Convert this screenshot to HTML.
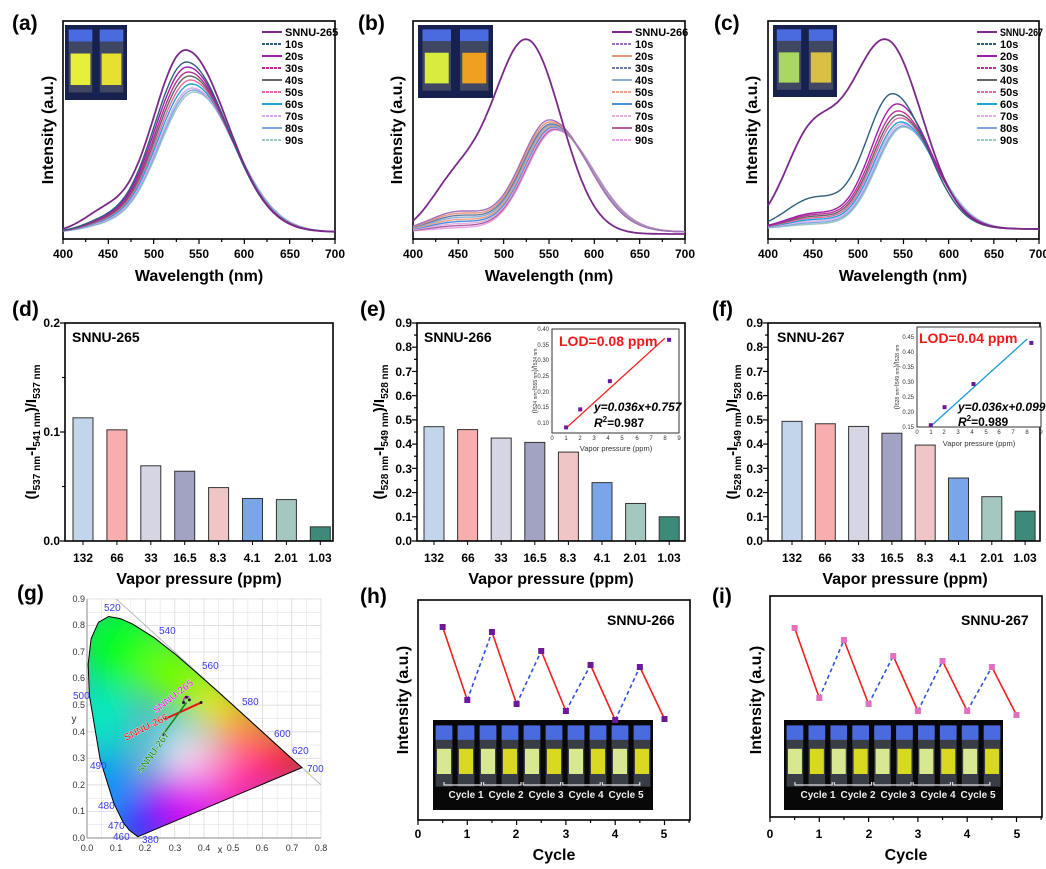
<!DOCTYPE html>
<html><head><meta charset="utf-8"><style>
html,body{margin:0;padding:0;background:#fff}
svg{display:block}
text{font-family:"Liberation Sans",sans-serif}
.pl{font-size:21px;font-weight:bold}
.tk{font-size:12px;font-weight:bold}
.ax{font-size:16px;font-weight:bold}
.lg{font-size:11px;font-weight:bold}
.cie{font-family:"Liberation Serif",serif;font-size:9px;fill:#333}
.wl{font-family:"Liberation Serif",serif;font-size:10px;fill:#3a3aee}
.in{font-size:6px;fill:#333}
.cy{font-size:10px;font-weight:bold;fill:#eee}
</style></head><body>
<svg id="s" width="1046" height="869" viewBox="0 0 1046 869" xmlns="http://www.w3.org/2000/svg">
<defs>
<clipPath id="cieclip"><polygon id="locus" points=""/></clipPath>
<filter id="bl" x="-50%" y="-50%" width="200%" height="200%"><feGaussianBlur stdDeviation="18"/></filter>
</defs>

<text class="pl" x="12" y="30">(a)</text>
<text class="pl" x="358" y="30">(b)</text>
<text class="pl" x="714" y="30">(c)</text>
<text class="pl" x="12" y="316">(d)</text>
<text class="pl" x="360" y="316">(e)</text>
<text class="pl" x="712" y="316">(f)</text>
<text class="pl" x="17" y="600">(g)</text>
<text class="pl" x="360" y="603">(h)</text>
<text class="pl" x="712" y="603">(i)</text>

<g id="dyn"></g>

<g class="tk" text-anchor="middle">
<text x="63" y="258">400</text><text x="108" y="258">450</text><text x="154" y="258">500</text><text x="199" y="258">550</text><text x="244" y="258">600</text><text x="290" y="258">650</text><text x="335" y="258">700</text>
<text x="413" y="258">400</text><text x="458" y="258">450</text><text x="504" y="258">500</text><text x="549" y="258">550</text><text x="594" y="258">600</text><text x="640" y="258">650</text><text x="685" y="258">700</text>
<text x="768" y="258">400</text><text x="813" y="258">450</text><text x="858" y="258">500</text><text x="903" y="258">550</text><text x="949" y="258">600</text><text x="994" y="258">650</text><text x="1039" y="258">700</text>
</g>
<g class="ax" text-anchor="middle">
<text x="199" y="281">Wavelength (nm)</text>
<text x="549" y="281">Wavelength (nm)</text>
<text x="903" y="281">Wavelength (nm)</text>
<text transform="translate(53,130) rotate(-90)">Intensity (a.u.)</text>
<text transform="translate(402,130) rotate(-90)">Intensity (a.u.)</text>
<text transform="translate(757,130) rotate(-90)">Intensity (a.u.)</text>
</g>
<g class="lg">
<text x="285" y="36">SNNU-265</text><text x="285" y="48">10s</text><text x="285" y="60">20s</text><text x="285" y="72">30s</text><text x="285" y="84">40s</text><text x="285" y="96">50s</text><text x="285" y="108">60s</text><text x="285" y="120">70s</text><text x="285" y="132">80s</text><text x="285" y="144">90s</text>
<text x="635" y="36">SNNU-266</text><text x="635" y="48">10s</text><text x="635" y="60">20s</text><text x="635" y="72">30s</text><text x="635" y="84">40s</text><text x="635" y="96">50s</text><text x="635" y="108">60s</text><text x="635" y="120">70s</text><text x="635" y="132">80s</text><text x="635" y="144">90s</text>
<text x="1000" y="36" textLength="43" lengthAdjust="spacingAndGlyphs">SNNU-267</text><text x="1000" y="48">10s</text><text x="1000" y="60">20s</text><text x="1000" y="72">30s</text><text x="1000" y="84">40s</text><text x="1000" y="96">50s</text><text x="1000" y="108">60s</text><text x="1000" y="120">70s</text><text x="1000" y="132">80s</text><text x="1000" y="144">90s</text>
</g>

<g class="tk" text-anchor="end">
<text x="60" y="545">0.0</text><text x="60" y="436">0.1</text><text x="60" y="327">0.2</text>
<text x="412" y="545">0.0</text><text x="412" y="521">0.1</text><text x="412" y="497">0.2</text><text x="412" y="473">0.3</text><text x="412" y="448">0.4</text><text x="412" y="424">0.5</text><text x="412" y="400">0.6</text><text x="412" y="376">0.7</text><text x="412" y="351">0.8</text><text x="412" y="327">0.9</text>
<text x="763" y="545">0.0</text><text x="763" y="521">0.1</text><text x="763" y="497">0.2</text><text x="763" y="473">0.3</text><text x="763" y="448">0.4</text><text x="763" y="424">0.5</text><text x="763" y="400">0.6</text><text x="763" y="376">0.7</text><text x="763" y="351">0.8</text><text x="763" y="327">0.9</text>
</g>
<g class="tk" text-anchor="middle">
<text x="83" y="562">132</text><text x="117" y="562">66</text><text x="151" y="562">33</text><text x="185" y="562">16.5</text><text x="218" y="562">8.3</text><text x="252" y="562">4.1</text><text x="286" y="562">2.01</text><text x="320" y="562">1.03</text>
<text x="434" y="562">132</text><text x="468" y="562">66</text><text x="501" y="562">33</text><text x="535" y="562">16.5</text><text x="568" y="562">8.3</text><text x="602" y="562">4.1</text><text x="635" y="562">2.01</text><text x="669" y="562">1.03</text>
<text x="792" y="562">132</text><text x="825" y="562">66</text><text x="858" y="562">33</text><text x="892" y="562">16.5</text><text x="925" y="562">8.3</text><text x="958" y="562">4.1</text><text x="992" y="562">2.01</text><text x="1025" y="562">1.03</text>
</g>
<g class="ax" text-anchor="middle">
<text x="199" y="584">Vapor pressure (ppm)</text>
<text x="551" y="584">Vapor pressure (ppm)</text>
<text x="905" y="584">Vapor pressure (ppm)</text>
</g>
<g font-weight="bold" font-size="15" text-anchor="middle">
<text transform="translate(36,432) rotate(-90)">(I<tspan font-size="10" dy="4">537 nm</tspan><tspan dy="-4">-I</tspan><tspan font-size="10" dy="4">541 nm</tspan><tspan dy="-4">)/I</tspan><tspan font-size="10" dy="4">537 nm</tspan></text>
<text transform="translate(384,432) rotate(-90)">(I<tspan font-size="10" dy="4">528 nm</tspan><tspan dy="-4">-I</tspan><tspan font-size="10" dy="4">549 nm</tspan><tspan dy="-4">)/I</tspan><tspan font-size="10" dy="4">528 nm</tspan></text>
<text transform="translate(737,432) rotate(-90)">(I<tspan font-size="10" dy="4">528 nm</tspan><tspan dy="-4">-I</tspan><tspan font-size="10" dy="4">549 nm</tspan><tspan dy="-4">)/I</tspan><tspan font-size="10" dy="4">528 nm</tspan></text>
</g>
<g font-weight="bold" font-size="14">
<text x="72" y="342">SNNU-265</text>
<text x="424" y="342">SNNU-266</text>
<text x="777" y="342">SNNU-267</text>
</g>
<g class="in" text-anchor="end">
<text x="549" y="425">0.10</text><text x="549" y="409">0.15</text><text x="549" y="394">0.20</text><text x="549" y="378">0.25</text><text x="549" y="362">0.30</text><text x="549" y="347">0.35</text><text x="549" y="331">0.40</text>
<text x="914" y="429">0.15</text><text x="914" y="414">0.20</text><text x="914" y="399">0.25</text><text x="914" y="384">0.30</text><text x="914" y="369">0.35</text><text x="914" y="354">0.40</text><text x="914" y="339">0.45</text>
</g>
<g class="in" text-anchor="middle">
<text x="552" y="440">0</text><text x="566" y="440">1</text><text x="580" y="440">2</text><text x="594" y="440">3</text><text x="608" y="440">4</text><text x="622" y="440">5</text><text x="637" y="440">6</text><text x="651" y="440">7</text><text x="665" y="440">8</text><text x="679" y="440">9</text>
<text x="917" y="434">0</text><text x="931" y="434">1</text><text x="944" y="434">2</text><text x="958" y="434">3</text><text x="972" y="434">4</text><text x="986" y="434">5</text><text x="999" y="434">6</text><text x="1013" y="434">7</text><text x="1027" y="434">8</text><text x="1041" y="434">9</text>
<text x="616" y="451" font-size="7.5">Vapor pressure (ppm)</text>
<text x="979" y="446" font-size="7.5">Vapor pressure (ppm)</text>
<text transform="translate(537,381) rotate(-90)" font-size="7">(I<tspan font-size="5">524 nm</tspan>-I<tspan font-size="5">555 nm</tspan>)/I<tspan font-size="5">524 nm</tspan></text>
<text transform="translate(899,377) rotate(-90)" font-size="7">(I<tspan font-size="5">528 nm</tspan>-I<tspan font-size="5">549 nm</tspan>)/I<tspan font-size="5">528 nm</tspan></text>
</g>
<g font-weight="bold">
<text x="559" y="346" font-size="14" fill="#f01818">LOD=0.08 ppm</text>
<text x="594" y="411" font-size="12" font-style="italic">y=0.036x+0.757</text>
<text x="594" y="427" font-size="12"><tspan font-style="italic">R</tspan><tspan font-size="8" dy="-5">2</tspan><tspan dy="5">=0.987</tspan></text>
<text x="919" y="343" font-size="14" fill="#f01818">LOD=0.04 ppm</text>
<text x="958" y="411" font-size="12" font-style="italic">y=0.036x+0.099</text>
<text x="958" y="426" font-size="12"><tspan font-style="italic">R</tspan><tspan font-size="8" dy="-5">2</tspan><tspan dy="5">=0.989</tspan></text>
</g>

<g class="tk" text-anchor="middle">
<text x="418" y="838">0</text><text x="467" y="838">1</text><text x="516" y="838">2</text><text x="566" y="838">3</text><text x="615" y="838">4</text><text x="664" y="838">5</text>
<text x="770" y="838">0</text><text x="819" y="838">1</text><text x="869" y="838">2</text><text x="918" y="838">3</text><text x="967" y="838">4</text><text x="1017" y="838">5</text>
</g>
<g class="ax" text-anchor="middle">
<text x="554" y="860">Cycle</text>
<text x="906" y="860">Cycle</text>
<text transform="translate(408,700) rotate(-90)">Intensity (a.u.)</text>
<text transform="translate(761,700) rotate(-90)">Intensity (a.u.)</text>
</g>
<g font-weight="bold" font-size="14">
<text x="607" y="625">SNNU-266</text>
<text x="961" y="625">SNNU-267</text>
</g>
<g class="cy" text-anchor="middle">
<text x="466" y="798">Cycle 1</text><text x="506" y="798">Cycle 2</text><text x="546" y="798">Cycle 3</text><text x="586" y="798">Cycle 4</text><text x="626" y="798">Cycle 5</text>
<text x="818" y="798">Cycle 1</text><text x="858" y="798">Cycle 2</text><text x="898" y="798">Cycle 3</text><text x="938" y="798">Cycle 4</text><text x="978" y="798">Cycle 5</text>
</g>

<g class="cie" text-anchor="end">
<text x="85" y="841">0.0</text><text x="85" y="814">0.1</text><text x="85" y="788">0.2</text><text x="85" y="761">0.3</text><text x="85" y="735">0.4</text><text x="85" y="708">0.5</text><text x="85" y="681">0.6</text><text x="85" y="655">0.7</text><text x="85" y="628">0.8</text><text x="85" y="602">0.9</text>
</g>
<g class="cie" text-anchor="middle">
<text x="87" y="851">0.0</text><text x="116" y="851">0.1</text><text x="145" y="851">0.2</text><text x="175" y="851">0.3</text><text x="204" y="851">0.4</text><text x="233" y="851">0.5</text><text x="262" y="851">0.6</text><text x="292" y="851">0.7</text><text x="321" y="851">0.8</text>
<text x="220" y="853" font-size="10">x</text><text x="74" y="722" font-size="10">y</text>
</g>
<g class="wl">
<text x="104" y="611">520</text><text x="159" y="634">540</text><text x="202" y="669">560</text><text x="242" y="705">580</text><text x="274" y="737">600</text><text x="292" y="754">620</text><text x="307" y="772">700</text>
<text x="73" y="699">500</text><text x="90" y="769">490</text><text x="98" y="809">480</text><text x="108" y="829">470</text><text x="113" y="840">460</text><text x="142" y="843">380</text>
</g>
<g font-weight="bold" font-size="10" stroke-width="0.3">
<text transform="translate(156,714) rotate(-38)" fill="#e020e0" stroke="#fff">SNNU-265</text>
<text transform="translate(126,741) rotate(-27)" fill="#e01010" stroke="#fff">SNNU-266</text>
<text transform="translate(142,774) rotate(-55)" fill="#108810" stroke="#fff">SNNU-267</text>
</g>
</svg>
<script>
(function(){
var NS="http://www.w3.org/2000/svg",dyn=document.getElementById("dyn");
function el(t,a,p){var e=document.createElementNS(NS,t);for(var k in a)e.setAttribute(k,a[k]);(p||dyn).appendChild(e);return e;}
function box(x0,y0,x1,y1,sw){el("rect",{x:x0,y:y0,width:x1-x0,height:y1-y0,fill:"none",stroke:"#000","stroke-width":sw||1.6});}
function photo(x0,y0,x1,y1,n,cols){
 el("rect",{x:x0,y:y0,width:x1-x0,height:y1-y0,fill:n>2?"#080808":"#17214f"});
 var w=(x1-x0)/n;
 for(var i=0;i<n;i++){var cx=x0+w*i+w*0.12,vw=w*0.76;
  el("rect",{x:cx,y:y0+(y1-y0)*0.08,width:vw,height:(y1-y0)*(n>2?0.66:0.82),fill:"#5a6070",opacity:0.6});
  el("rect",{x:cx,y:y0+(y1-y0)*0.06,width:vw,height:(y1-y0)*0.16,fill:"#4a6ae0"});
  el("rect",{x:cx+vw*0.08,y:y0+(y1-y0)*(n>2?0.32:0.38),width:vw*0.84,height:(y1-y0)*(n>2?0.28:0.42),fill:cols[i%cols.length]});
 }
 if(n>2){for(var j=0;j<5;j++){var bx=x0+(x1-x0)*(0.05+0.18*j);el("path",{d:"M"+bx+" "+(y0+62)+"v3h"+((x1-x0)*0.17)+"v-3",stroke:"#ddd",fill:"none","stroke-width":1.2});}}
}
function spec(X0,X1,Y0,Y1,series,cols){
 box(X0,Y0,X1,Y1);
 var sx=(X1-X0)/300;
 for(var t=0;t<=12;t++){var x=X0+t*25*sx;el("line",{x1:x,y1:Y1,x2:x,y2:Y1+(t%2?3:5),stroke:"#000","stroke-width":1.2});}
 for(var s=series.length-1;s>=0;s--){var p=series[s],d="";
  for(var wl=400;wl<=700;wl+=2){var sg=wl<p.p?p.sl:p.sr;
   var v=p.A*Math.exp(-0.5*Math.pow((wl-p.p)/sg,2))+p.S*Math.exp(-0.5*Math.pow((wl-p.sc)/p.ss,2));
   d+=(wl==400?"M":"L")+(X0+(wl-400)*sx).toFixed(1)+" "+(p.b-v).toFixed(1);}
  el("path",{d:d,fill:"none",stroke:cols[s],"stroke-width":s==0?1.8:1.4});
 }
}
function legend(lx,cols){for(var i=0;i<10;i++){el("line",{x1:lx,y1:32+i*12,x2:lx+20,y2:32+i*12,stroke:cols[i],"stroke-width":2,"stroke-dasharray":i%2?"3,1":""});}}
var ca=["#7b2a8a","#2e5f7a","#9b1fa8","#b0308f","#666","#e26aa8","#1aa6d6","#d8a8e8","#7fa8e0","#9cc8c0"];
var sa=[];var pk=[50,62,67,72,76,80,84,88,90,92];
for(var i=0;i<10;i++)sa.push({b:232,A:232-pk[i],p:535+i*1.1,sl:36+i*0.3,sr:46,S:i==0?18:10-i*0.6,sc:445,ss:24});
spec(63,335,21,239,sa,ca);legend(262,ca);
var cb=["#7b2a8a","#a070c0","#e8967a","#6a7aa0","#8ab0d8","#f0a080","#4a8ee0","#e0b0e0","#b060a0","#e8a0e8"];
var sb=[{b:234,A:194,p:525,sl:38,sr:38,S:45,sc:445,ss:28}];
var pb=[117,120,122,124,125,126,127,128,129,130];
for(var i=1;i<10;i++)sb.push({b:232,A:232-pb[i],p:550+i*0.8,sl:32,sr:42,S:22-i*2,sc:450,ss:32});
spec(413,685,21,239,sb,cb);legend(612,cb);
var cc=["#7b2a8a","#2e5f7a","#9b1fa8","#c0309a","#666","#e26aa8","#1aa6d6","#e0b0f0","#7fa8e0","#9cc8c0"];
var sc=[{b:229,A:189,p:530,sl:42,sr:40,S:80,sc:445,ss:28},{b:229,A:135,p:538,sl:30,sr:38,S:30,sc:450,ss:30}];
var pc=[0,0,104,111,115,118,122,124,126,127];
for(var i=2;i<10;i++)sc.push({b:229,A:229-pc[i],p:541+i,sl:30,sr:38,S:18-i*1.5,sc:450,ss:30});
spec(768,1039,21,239,sc,cc);legend(977,cc);
photo(65,25,127,100,2,["#e6ef3a","#e8e030"]);
photo(418,25,493,98,2,["#d8ec40","#f0a020"]);
photo(773,25,837,97,2,["#a8d860","#d8c040"]);
var bc=["#c3d5ea","#f8aeae","#d5d5e3","#a2a2c2","#efc5c5","#7aa6e8","#a4c8c0","#3d8a78"];
function bars(X0,X1,Y0,Y1,c0,dx,vals,ymax,nt){
 for(var i=0;i<8;i++){var h=vals[i]/ymax*(Y1-Y0);el("rect",{x:c0+dx*i-10,y:Y1-h,width:20,height:h,fill:bc[i],stroke:"#333","stroke-width":1});}
 box(X0,Y0,X1,Y1);
 for(var t=0;t<=nt*2;t++){var y=Y1-t*(Y1-Y0)/(nt*2);el("line",{x1:X0,y1:y,x2:X0-(t%2?3:5),y2:y,stroke:"#000","stroke-width":1.2});}
 for(var i=0;i<8;i++)el("line",{x1:c0+dx*i,y1:Y1,x2:c0+dx*i,y2:Y1+4,stroke:"#000"});
}
bars(65,333,323,541,83,33.9,[.113,.102,.069,.064,.049,.039,.038,.013],0.2,2);
bars(417,685,323,541,434,33.6,[.472,.46,.425,.407,.367,.241,.155,.1],0.9,9);
bars(768,1040,323,541,792,33.3,[.494,.484,.473,.445,.396,.26,.183,.123],0.9,9);
function inset(X0,X1,Y0,Y1,ymin,ymax,pts,l,lc){
 el("rect",{x:X0,y:Y0,width:X1-X0,height:Y1-Y0,fill:"#fff",stroke:"#333","stroke-width":1});
 function mx(v){return X0+v/9*(X1-X0);} function my(v){return Y1-(v-ymin)/(ymax-ymin)*(Y1-Y0);}
 el("line",{x1:mx(l[0]),y1:my(l[1]),x2:mx(l[2]),y2:my(l[3]),stroke:lc,"stroke-width":1.3});
 pts.forEach(function(p){el("rect",{x:mx(p[0])-2,y:my(p[1])-2,width:4,height:4,fill:"#6a1a9a"});});
}
inset(552,679,329,433,0.083,0.40,[[1,.1],[2,.155],[4.1,.241],[8.3,.367]],[1,.098,8,.372],"#f02020");
inset(917,1041,327,427,0.117,0.45,[[1,.123],[2,.183],[4.1,.26],[8.3,.397]],[1,.12,8,.41],"#1a9ad6");
function cyc(X0,X1,Y0,Y1,ys,pc,ph){
 var u=49.3;
 photo(ph[0],720,ph[1],810,10,["#d8e890","#d8d820"]);
 box(X0,Y0,X1,Y1);
 for(var t=0;t<=11;t++){var x=X0+t*u/2;el("line",{x1:x,y1:Y1,x2:x,y2:Y1+(t%2?3:5),stroke:"#000","stroke-width":1.2});}
 for(var i=0;i<9;i++){var xa=X0+(0.5+i*0.5)*u,xb=X0+(1+i*0.5)*u;
  el("line",{x1:xa,y1:ys[i],x2:xb,y2:ys[i+1],stroke:i%2?"#3050e0":"#f02020","stroke-width":1.6,"stroke-dasharray":i%2?"4,3":""});}
 for(var i=0;i<10;i++)el("rect",{x:X0+(0.5+i*0.5)*u-3,y:ys[i]-3,width:6,height:6,fill:pc});
}
cyc(418,690,600,820,[627,700,632,704,651,711,665,720,667,719],"#6a1a9a",[433,653]);
cyc(770,1042,596,817,[628,698,640,704,656,711,661,711,667,715],"#e070c0",[784,1003]);
var L=[[.174,.005],[.144,.03],[.124,.058],[.091,.133],[.045,.295],[.008,.538],[.004,.655],[.014,.75],[.039,.812],[.074,.834],[.114,.826],[.155,.806],[.23,.754],[.302,.692],[.373,.624],[.444,.555],[.512,.487],[.575,.424],[.627,.372],[.691,.308],[.735,.265]];
function cx(v){return 87+v*292.5;} function cy(v){return 838-v*265.6;}
for(var g=0;g<=16;g++){el("line",{x1:cx(g*0.05),y1:cy(0),x2:cx(g*0.05),y2:cy(0.9),stroke:"#ddd","stroke-width":g%2?0.5:0.9});}
for(var g=0;g<=18;g++){el("line",{x1:cx(0),y1:cy(g*0.05),x2:cx(0.8),y2:cy(g*0.05),stroke:"#ddd","stroke-width":g%2?0.5:0.9});}
el("line",{x1:cx(0),y1:cy(0),x2:cx(0.8),y2:cy(0),stroke:"#888"});
el("line",{x1:cx(0),y1:cy(0),x2:cx(0),y2:cy(0.9),stroke:"#888"});
el("line",{x1:cx(0.1),y1:cy(0.9),x2:cx(0.8),y2:cy(0.2),stroke:"#bbb"});
document.getElementById("locus").setAttribute("points",L.map(function(p){return cx(p[0])+","+cy(p[1]);}).join(" "));
var gg=el("g",{"clip-path":"url(#cieclip)"});
el("rect",{x:80,y:600,width:240,height:245,fill:"#40b0c8"},gg);
var bl=el("g",{filter:"url(#bl)"},gg);
[[.12,.72,45,"#00ff20"],[.05,.45,30,"#00f0c0"],[.3,.62,35,"#70ff00"],[.45,.5,28,"#f0f000"],[.55,.4,30,"#ff9000"],[.68,.29,30,"#ff1010"],[.5,.2,40,"#ff20a0"],[.33,.12,40,"#e010f0"],[.18,.06,30,"#3010ff"],[.08,.2,28,"#0090ff"],[.32,.33,22,"#ffffff"],[.4,.3,20,"#ffc0e0"]].forEach(function(c){el("circle",{cx:cx(c[0]),cy:cy(c[1]),r:c[2],fill:c[3]},bl);});
el("polygon",{points:L.map(function(p){return cx(p[0])+","+cy(p[1]);}).join(" "),fill:"none",stroke:"#000","stroke-width":1});
el("path",{d:"M"+cx(.27)+" "+cy(.45)+"Q"+cx(.33)+" "+cy(.48)+" "+cx(.39)+" "+cy(.51),stroke:"#f01010","stroke-width":2,fill:"none"});
el("path",{d:"M"+cx(.26)+" "+cy(.39)+"Q"+cx(.3)+" "+cy(.45)+" "+cx(.34)+" "+cy(.51),stroke:"#108810","stroke-width":1.5,fill:"none"});
el("path",{d:"M"+cx(.33)+" "+cy(.51)+"Q"+cx(.33)+" "+cy(.54)+" "+cx(.35)+" "+cy(.53),stroke:"#e020e0","stroke-width":1.5,fill:"none"});
[[.27,.45],[.39,.51],[.26,.39],[.34,.53],[.33,.51],[.35,.52]].forEach(function(p){el("circle",{cx:cx(p[0]),cy:cy(p[1]),r:1.5,fill:"#222"});});
})();
</script>
</body></html>
